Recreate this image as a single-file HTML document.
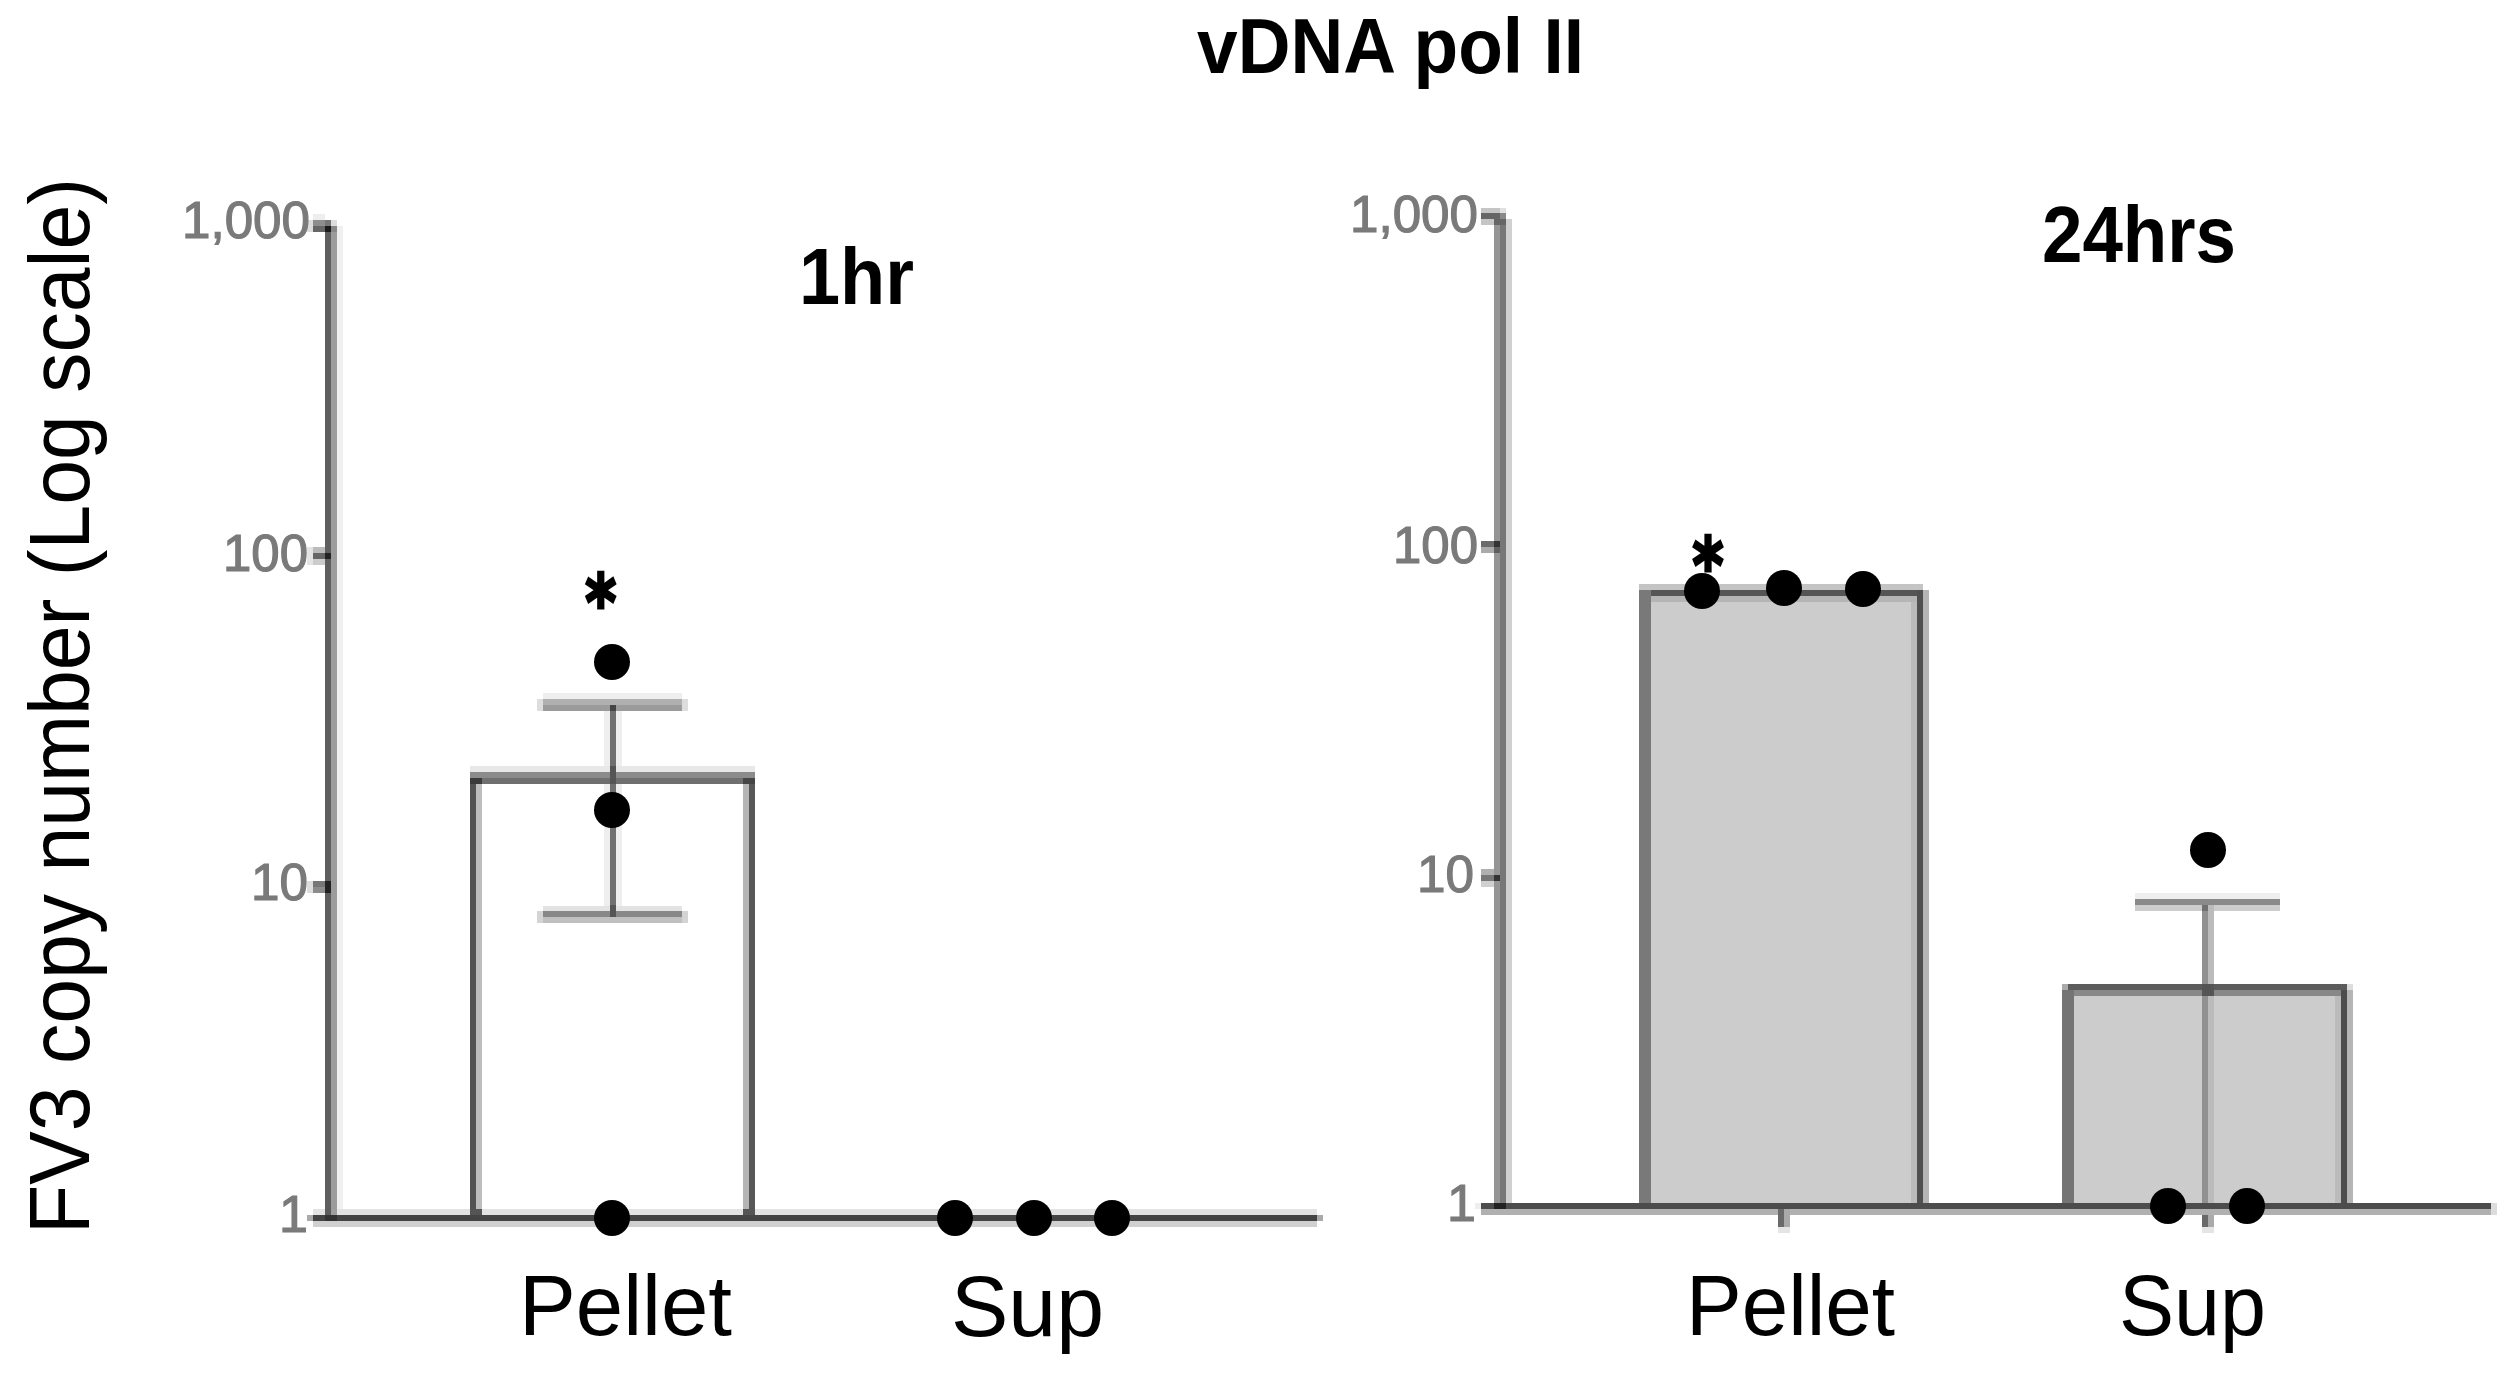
<!DOCTYPE html>
<html>
<head>
<meta charset="utf-8">
<title>vDNA pol II</title>
<style>
html,body{margin:0;padding:0;background:#fff;}
body{width:2510px;height:1376px;overflow:hidden;}
svg{display:block;}
text{font-family:"Liberation Sans",Arial,sans-serif;}
.b{font-weight:bold;fill:#000;}
.tk{fill:#7a7a7a;font-size:52px;stroke:#7a7a7a;stroke-width:1.2px;}
.cat{font-size:86px;fill:#000;}
.ast{font-family:"DejaVu Sans",sans-serif;font-weight:bold;fill:#000;}
</style>
</head>
<body>
<svg width="2510" height="1376" viewBox="0 0 2510 1376">
<rect x="0" y="0" width="2510" height="1376" fill="#fff"/>
<text class="b" x="1197" y="73" font-size="78" textLength="387" lengthAdjust="spacingAndGlyphs">vDNA pol II</text>
<text class="cat" transform="translate(89,1234) rotate(-90)" font-size="87" textLength="1056" lengthAdjust="spacingAndGlyphs">FV3 copy number (Log scale)</text>
<rect x="337" y="226" width="6" height="989" fill="#f0f0f0"/>
<rect x="331" y="226" width="6" height="989" fill="#9c9c9c"/>
<rect x="325" y="226" width="6" height="989" fill="#5f5f5f"/>
<rect x="325" y="220" width="6" height="6" fill="#777777"/>
<rect x="331" y="220" width="6" height="6" fill="#dddddd"/>
<rect x="313" y="214" width="12" height="6" fill="#eeeeee"/>
<rect x="307" y="220" width="6" height="12" fill="#dddddd"/>
<rect x="313" y="220" width="12" height="6" fill="#8e8e8e"/>
<rect x="313" y="226" width="12" height="6" fill="#666666"/>
<rect x="325" y="226" width="6" height="6" fill="#1a1a1a"/>
<rect x="331" y="226" width="6" height="6" fill="#888888"/>
<rect x="307" y="547" width="6" height="18" fill="#e4e4e4"/>
<rect x="313" y="547" width="12" height="6" fill="#bbbbbb"/>
<rect x="313" y="553" width="12" height="6" fill="#666666"/>
<rect x="313" y="559" width="12" height="6" fill="#cccccc"/>
<rect x="325" y="553" width="6" height="6" fill="#222222"/>
<rect x="307" y="881" width="6" height="12" fill="#dddddd"/>
<rect x="313" y="881" width="12" height="6" fill="#777777"/>
<rect x="313" y="887" width="12" height="6" fill="#8c8c8c"/>
<rect x="325" y="881" width="6" height="12" fill="#222222"/>
<rect x="313" y="1209" width="1004" height="6" fill="#e3e3e3"/>
<rect x="307" y="1215" width="6" height="6" fill="#aaaaaa"/>
<rect x="313" y="1215" width="1004" height="6" fill="#444444"/>
<rect x="313" y="1221" width="1004" height="6" fill="#d0d0d0"/>
<rect x="1317" y="1215" width="6" height="6" fill="#aaaaaa"/>
<rect x="325" y="1209" width="6" height="6" fill="#5c5c5c"/>
<rect x="331" y="1209" width="6" height="6" fill="#9e9e9e"/>
<rect x="325" y="1215" width="12" height="6" fill="#333333"/>
<rect x="604" y="711" width="6" height="200" fill="#eeeeee"/>
<rect x="616" y="711" width="6" height="200" fill="#eeeeee"/>
<rect x="470" y="766" width="285" height="6" fill="#e8e8e8"/>
<rect x="470" y="772" width="285" height="6" fill="#8b8b8b"/>
<rect x="470" y="778" width="285" height="6" fill="#6f6f6f"/>
<rect x="470" y="784" width="6" height="431" fill="#535353"/>
<rect x="476" y="784" width="6" height="431" fill="#bdbdbd"/>
<rect x="743" y="784" width="6" height="431" fill="#b5b5b5"/>
<rect x="749" y="784" width="6" height="431" fill="#585858"/>
<rect x="470" y="778" width="12" height="6" fill="#3a3a3a"/>
<rect x="743" y="778" width="12" height="6" fill="#454545"/>
<rect x="470" y="1209" width="12" height="6" fill="#555555"/>
<rect x="743" y="1209" width="12" height="6" fill="#555555"/>
<rect x="543" y="693" width="139" height="6" fill="#eeeeee"/>
<rect x="543" y="699" width="139" height="6" fill="#b0b0b0"/>
<rect x="543" y="705" width="139" height="6" fill="#9b9b9b"/>
<rect x="537" y="699" width="6" height="12" fill="#dddddd"/>
<rect x="682" y="699" width="6" height="12" fill="#dddddd"/>
<rect x="610" y="711" width="6" height="200" fill="#707070"/>
<rect x="610" y="705" width="6" height="6" fill="#444444"/>
<rect x="610" y="766" width="6" height="18" fill="#555555"/>
<rect x="543" y="906" width="139" height="5" fill="#e3e3e3"/>
<rect x="543" y="911" width="139" height="6" fill="#888888"/>
<rect x="543" y="917" width="139" height="6" fill="#c0c0c0"/>
<rect x="537" y="911" width="6" height="12" fill="#d4d4d4"/>
<rect x="682" y="911" width="6" height="12" fill="#d4d4d4"/>
<rect x="610" y="905" width="6" height="12" fill="#555555"/>
<rect x="1651" y="602" width="260" height="601" fill="#cccccc"/>
<rect x="2074" y="996" width="261" height="207" fill="#cccccc"/>
<rect x="1639" y="584" width="284" height="6" fill="#c4c4c4"/>
<rect x="1639" y="590" width="284" height="6" fill="#555555"/>
<rect x="1651" y="596" width="266" height="6" fill="#b5b5b5"/>
<rect x="1639" y="590" width="12" height="613" fill="#797979"/>
<rect x="1911" y="602" width="6" height="601" fill="#bbbbbb"/>
<rect x="1917" y="590" width="6" height="613" fill="#505050"/>
<rect x="1923" y="590" width="6" height="613" fill="#b5b5b5"/>
<rect x="2062" y="984" width="285" height="6" fill="#5c5c5c"/>
<rect x="2068" y="990" width="273" height="6" fill="#888888"/>
<rect x="2062" y="990" width="12" height="213" fill="#747474"/>
<rect x="2062" y="984" width="6" height="6" fill="#aaaaaa"/>
<rect x="2335" y="996" width="6" height="207" fill="#bbbbbb"/>
<rect x="2341" y="990" width="6" height="213" fill="#4d4d4d"/>
<rect x="2347" y="990" width="6" height="213" fill="#b5b5b5"/>
<rect x="2347" y="984" width="6" height="6" fill="#dddddd"/>
<rect x="2135" y="893" width="145" height="6" fill="#eeeeee"/>
<rect x="2135" y="899" width="145" height="6" fill="#8a8a8a"/>
<rect x="2135" y="905" width="145" height="6" fill="#cccccc"/>
<rect x="2202" y="905" width="6" height="298" fill="#909090"/>
<rect x="2208" y="905" width="6" height="298" fill="#bbbbbb"/>
<rect x="2202" y="905" width="6" height="6" fill="#707070"/>
<rect x="2202" y="984" width="12" height="12" fill="#555555"/>
<rect x="2202" y="1203" width="6" height="24" fill="#6a6a6a"/>
<rect x="2208" y="1203" width="6" height="24" fill="#aaaaaa"/>
<rect x="2202" y="1227" width="12" height="6" fill="#e5e5e5"/>
<rect x="1494" y="219" width="6" height="984" fill="#959595"/>
<rect x="1500" y="219" width="6" height="984" fill="#777777"/>
<rect x="1506" y="219" width="6" height="984" fill="#d0d0d0"/>
<rect x="1481" y="208" width="19" height="5" fill="#c5c5c5"/>
<rect x="1500" y="208" width="6" height="5" fill="#e0e0e0"/>
<rect x="1481" y="213" width="19" height="6" fill="#666666"/>
<rect x="1500" y="213" width="6" height="6" fill="#8a8a8a"/>
<rect x="1481" y="219" width="13" height="6" fill="#c5c5c5"/>
<rect x="1494" y="219" width="12" height="6" fill="#666666"/>
<rect x="1481" y="541" width="13" height="6" fill="#6a6a6a"/>
<rect x="1481" y="547" width="13" height="6" fill="#aaaaaa"/>
<rect x="1494" y="541" width="6" height="6" fill="#333333"/>
<rect x="1494" y="547" width="6" height="6" fill="#5f5f5f"/>
<rect x="1481" y="869" width="13" height="6" fill="#b0b0b0"/>
<rect x="1481" y="875" width="13" height="6" fill="#777777"/>
<rect x="1481" y="881" width="13" height="6" fill="#d0d0d0"/>
<rect x="1494" y="875" width="6" height="6" fill="#333333"/>
<rect x="1475" y="1203" width="6" height="6" fill="#eeeeee"/>
<rect x="1481" y="1203" width="1010" height="6" fill="#4c4c4c"/>
<rect x="1481" y="1209" width="1010" height="6" fill="#b0b0b0"/>
<rect x="2491" y="1203" width="6" height="12" fill="#dddddd"/>
<rect x="1494" y="1203" width="12" height="6" fill="#222222"/>
<rect x="1778" y="1209" width="6" height="18" fill="#6a6a6a"/>
<rect x="1784" y="1209" width="6" height="18" fill="#aaaaaa"/>
<rect x="1778" y="1227" width="12" height="6" fill="#e5e5e5"/>
<g class="tk">
<text x="182" y="238" textLength="128" lengthAdjust="spacingAndGlyphs">1,000</text>
<text x="223" y="571" textLength="85" lengthAdjust="spacingAndGlyphs">100</text>
<text x="251" y="900" textLength="57" lengthAdjust="spacingAndGlyphs">10</text>
<text x="279" y="1232">1</text>
<text x="1350" y="232" textLength="128" lengthAdjust="spacingAndGlyphs">1,000</text>
<text x="1393" y="563" textLength="85" lengthAdjust="spacingAndGlyphs">100</text>
<text x="1417" y="892" textLength="57" lengthAdjust="spacingAndGlyphs">10</text>
<text x="1447" y="1221">1</text>
</g>
<circle cx="612" cy="662" r="18"/>
<circle cx="612" cy="810" r="18"/>
<circle cx="612" cy="1218" r="18"/>
<circle cx="955" cy="1218" r="18"/>
<circle cx="1034" cy="1218" r="18"/>
<circle cx="1112" cy="1218" r="18"/>
<circle cx="1702" cy="591" r="18"/>
<circle cx="1784" cy="588" r="18"/>
<circle cx="1863" cy="589" r="18"/>
<circle cx="2208" cy="850" r="18"/>
<circle cx="2168" cy="1206" r="18"/>
<circle cx="2247" cy="1206" r="18"/>
<text class="ast" transform="translate(600.7,589.8) scale(0.78,1)" x="0" y="39" font-size="76" stroke="#000" stroke-width="3" text-anchor="middle">*</text>
<text class="ast" transform="translate(1708,553.4) scale(0.78,1)" x="0" y="39" font-size="76" stroke="#000" stroke-width="3" text-anchor="middle">*</text>
<text class="b" x="799" y="304" font-size="80" textLength="115" lengthAdjust="spacingAndGlyphs">1hr</text>
<text class="b" x="2042" y="262" font-size="80" textLength="194" lengthAdjust="spacingAndGlyphs">24hrs</text>
<text class="cat" x="519" y="1335" textLength="213" lengthAdjust="spacingAndGlyphs">Pellet</text>
<text class="cat" x="951" y="1336" textLength="153" lengthAdjust="spacingAndGlyphs">Sup</text>
<text class="cat" x="1686" y="1335" textLength="209" lengthAdjust="spacingAndGlyphs">Pellet</text>
<text class="cat" x="2119" y="1335" textLength="147" lengthAdjust="spacingAndGlyphs">Sup</text>
</svg>
</body>
</html>
